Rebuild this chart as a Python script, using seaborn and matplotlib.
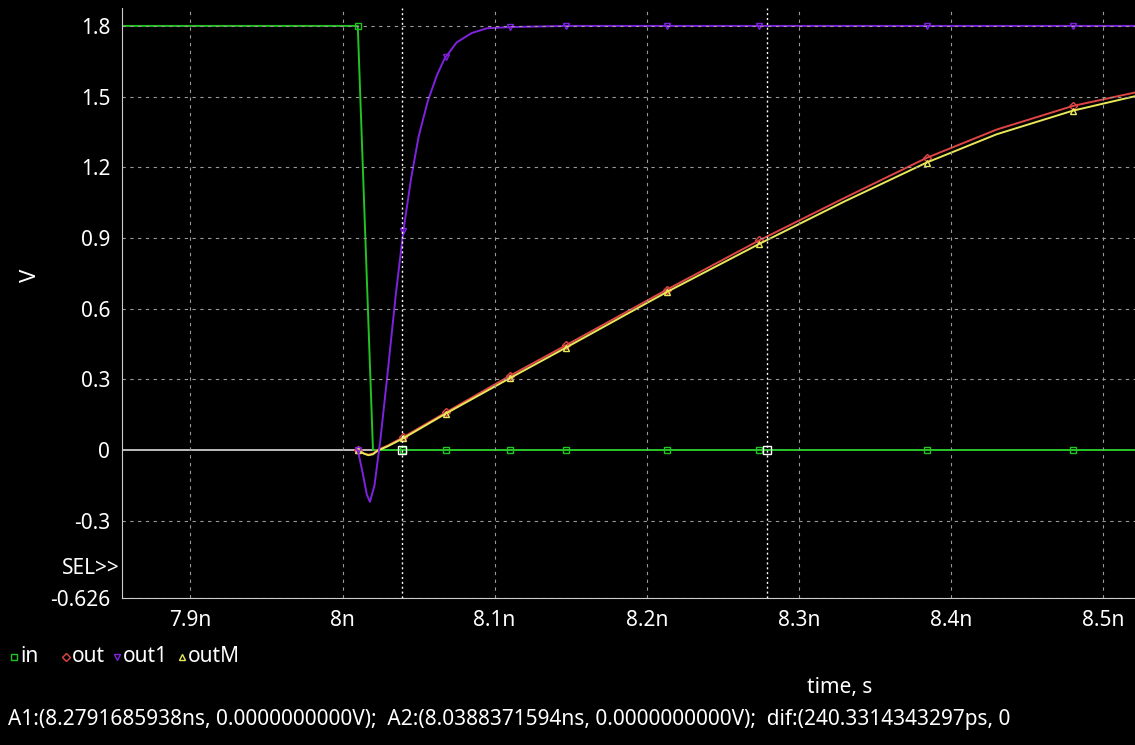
import numpy as np
import matplotlib
matplotlib.use("Agg")
import matplotlib.pyplot as plt
import seaborn as sns
import pandas as pd

# traces, time in ns
t_in = [7.855, 8.01, 8.02, 8.04, 8.068, 8.11, 8.147, 8.213, 8.274, 8.384, 8.48, 8.53]
v_in = [1.8, 1.8, 0.0, 0.0, 0.0, 0.0, 0.0, 0.0, 0.0, 0.0, 0.0, 0.0]
t_out1 = [8.01, 8.013, 8.016, 8.018, 8.021, 8.025, 8.03, 8.035, 8.04, 8.045, 8.05, 8.056,
          8.062, 8.067, 8.075, 8.085, 8.095, 8.11, 8.147, 8.213, 8.274, 8.384, 8.48, 8.53]
v_out1 = [0.0, -0.09, -0.19, -0.22, -0.15, 0.05, 0.35, 0.66, 0.93, 1.15, 1.33, 1.48,
          1.59, 1.66, 1.73, 1.77, 1.79, 1.795, 1.8, 1.8, 1.8, 1.8, 1.8, 1.8]
t_out = [8.01, 8.014, 8.017, 8.02, 8.023, 8.03, 8.04, 8.068, 8.11, 8.147, 8.213, 8.274,
         8.33, 8.384, 8.43, 8.48, 8.53]
v_out = [0.0, -0.015, -0.02, -0.015, 0.0, 0.02, 0.055, 0.16, 0.315, 0.445, 0.68, 0.89,
         1.07, 1.24, 1.36, 1.46, 1.53]
v_outM = [0.0, -0.015, -0.022, -0.018, -0.003, 0.017, 0.05, 0.155, 0.305, 0.435, 0.67, 0.875,
          1.055, 1.22, 1.34, 1.44, 1.515]
marker_t = [8.01, 8.04, 8.068, 8.11, 8.147, 8.213, 8.274, 8.384, 8.48]
cursor_a1 = 8.2791685938
cursor_a2 = 8.0388371594
x_ticks = [7.9, 8.0, 8.1, 8.2, 8.3, 8.4, 8.5]
x_labels = ["7.9n", "8n", "8.1n", "8.2n", "8.3n", "8.4n", "8.5n"]
y_ticks = [-0.626, -0.3, 0, 0.3, 0.6, 0.9, 1.2, 1.5, 1.8]
y_labels = ["-0.626", "-0.3", "0", "0.3", "0.6", "0.9", "1.2", "1.5", "1.8"]

sns.set_style("dark")
plt.rcParams["font.family"] = ["Noto Sans", "DejaVu Sans"]

fig = plt.figure(figsize=(11.35, 7.45), dpi=100, facecolor="black")
ax = fig.add_axes([122 / 1135, (745 - 598) / 745, 1013 / 1135, 590 / 745])
ax.set_facecolor("black")

green, red, purple, yellow = "#22c322", "#e04545", "#7f22e0", "#e8e85a"

def trace(t, v, color, marker, ms):
    df = pd.DataFrame({"t": t, "v": v})
    sns.lineplot(data=df, x="t", y="v", ax=ax, color=color, lw=1.4, sort=False, estimator=None)
    mv = np.interp(marker_t, t, v)
    ax.plot(marker_t, mv, ls="none", marker=marker, ms=ms, mfc="none", mec=color, mew=1)

ax.axhline(0, color="#dddddd", lw=1.2)
trace(t_in, v_in, green, "s", 4)
trace(t_out, v_out, red, "D", 4)
trace(t_out, v_outM, yellow, "^", 5)
trace(t_out1, v_out1, purple, "v", 5)
ax.plot([cursor_a2, cursor_a1], [0, 0], ls="none", marker="s", ms=6, mfc="none", mec="white")

for x in [cursor_a1, cursor_a2]:
    ax.axvline(x, color="white", lw=1, ls=(0, (1.5, 2)))
for x in x_ticks:
    ax.axvline(x, color="#999999", lw=0.8, ls=(0, (3, 4)))
for y in y_ticks:
    if y != 0:
        ax.axhline(y, color="#999999", lw=0.8, ls=(0, (3, 4)))

ax.set_xlim(7.855, 8.521)
ax.set_ylim(-0.628, 1.876)
ax.set_xticks(x_ticks, x_labels)
ax.set_yticks(y_ticks, y_labels)
ax.tick_params(colors="white", labelsize=15, length=5, direction="out")
ax.set_xlabel("")
ax.set_ylabel("")
for s in ["top", "right"]:
    ax.spines[s].set_visible(False)
for s in ["left", "bottom"]:
    ax.spines[s].set_visible(True)
    ax.spines[s].set_color("#cccccc")

fig.text(30 / 1135, 1 - 275 / 745, "V", color="white", fontsize=16, rotation=90, va="center", ha="center")
fig.text(120 / 1135, 1 - 568 / 745, "SEL>>", color="white", fontsize=15, va="center", ha="right")
fig.text(840 / 1135, 1 - 688 / 745, "time, s", color="white", fontsize=15, va="center", ha="center")
fig.text(8 / 1135, 1 - 720 / 745,
         "A1:(8.2791685938ns, 0.0000000000V);  A2:(8.0388371594ns, 0.0000000000V);  dif:(240.3314343297ps, 0",
         color="white", fontsize=15, va="center", ha="left")

lx, ly = 14 / 1135, 1 - 657 / 745
items = [("in", green, "s"), ("out", red, "D"), ("out1", purple, "v"), ("outM", yellow, "^")]
offs = [0, 52, 103, 168]
for (name, c, m), o in zip(items, offs):
    fig.lines.append(plt.Line2D([lx + o / 1135], [ly], transform=fig.transFigure, marker=m,
                                ms=4, mfc="none", mec=c, ls="none"))
    fig.text(lx + (o + 6) / 1135, ly, name, color="white", fontsize=15, va="center", ha="left")

fig.savefig("out.png", dpi=100, facecolor="black")
